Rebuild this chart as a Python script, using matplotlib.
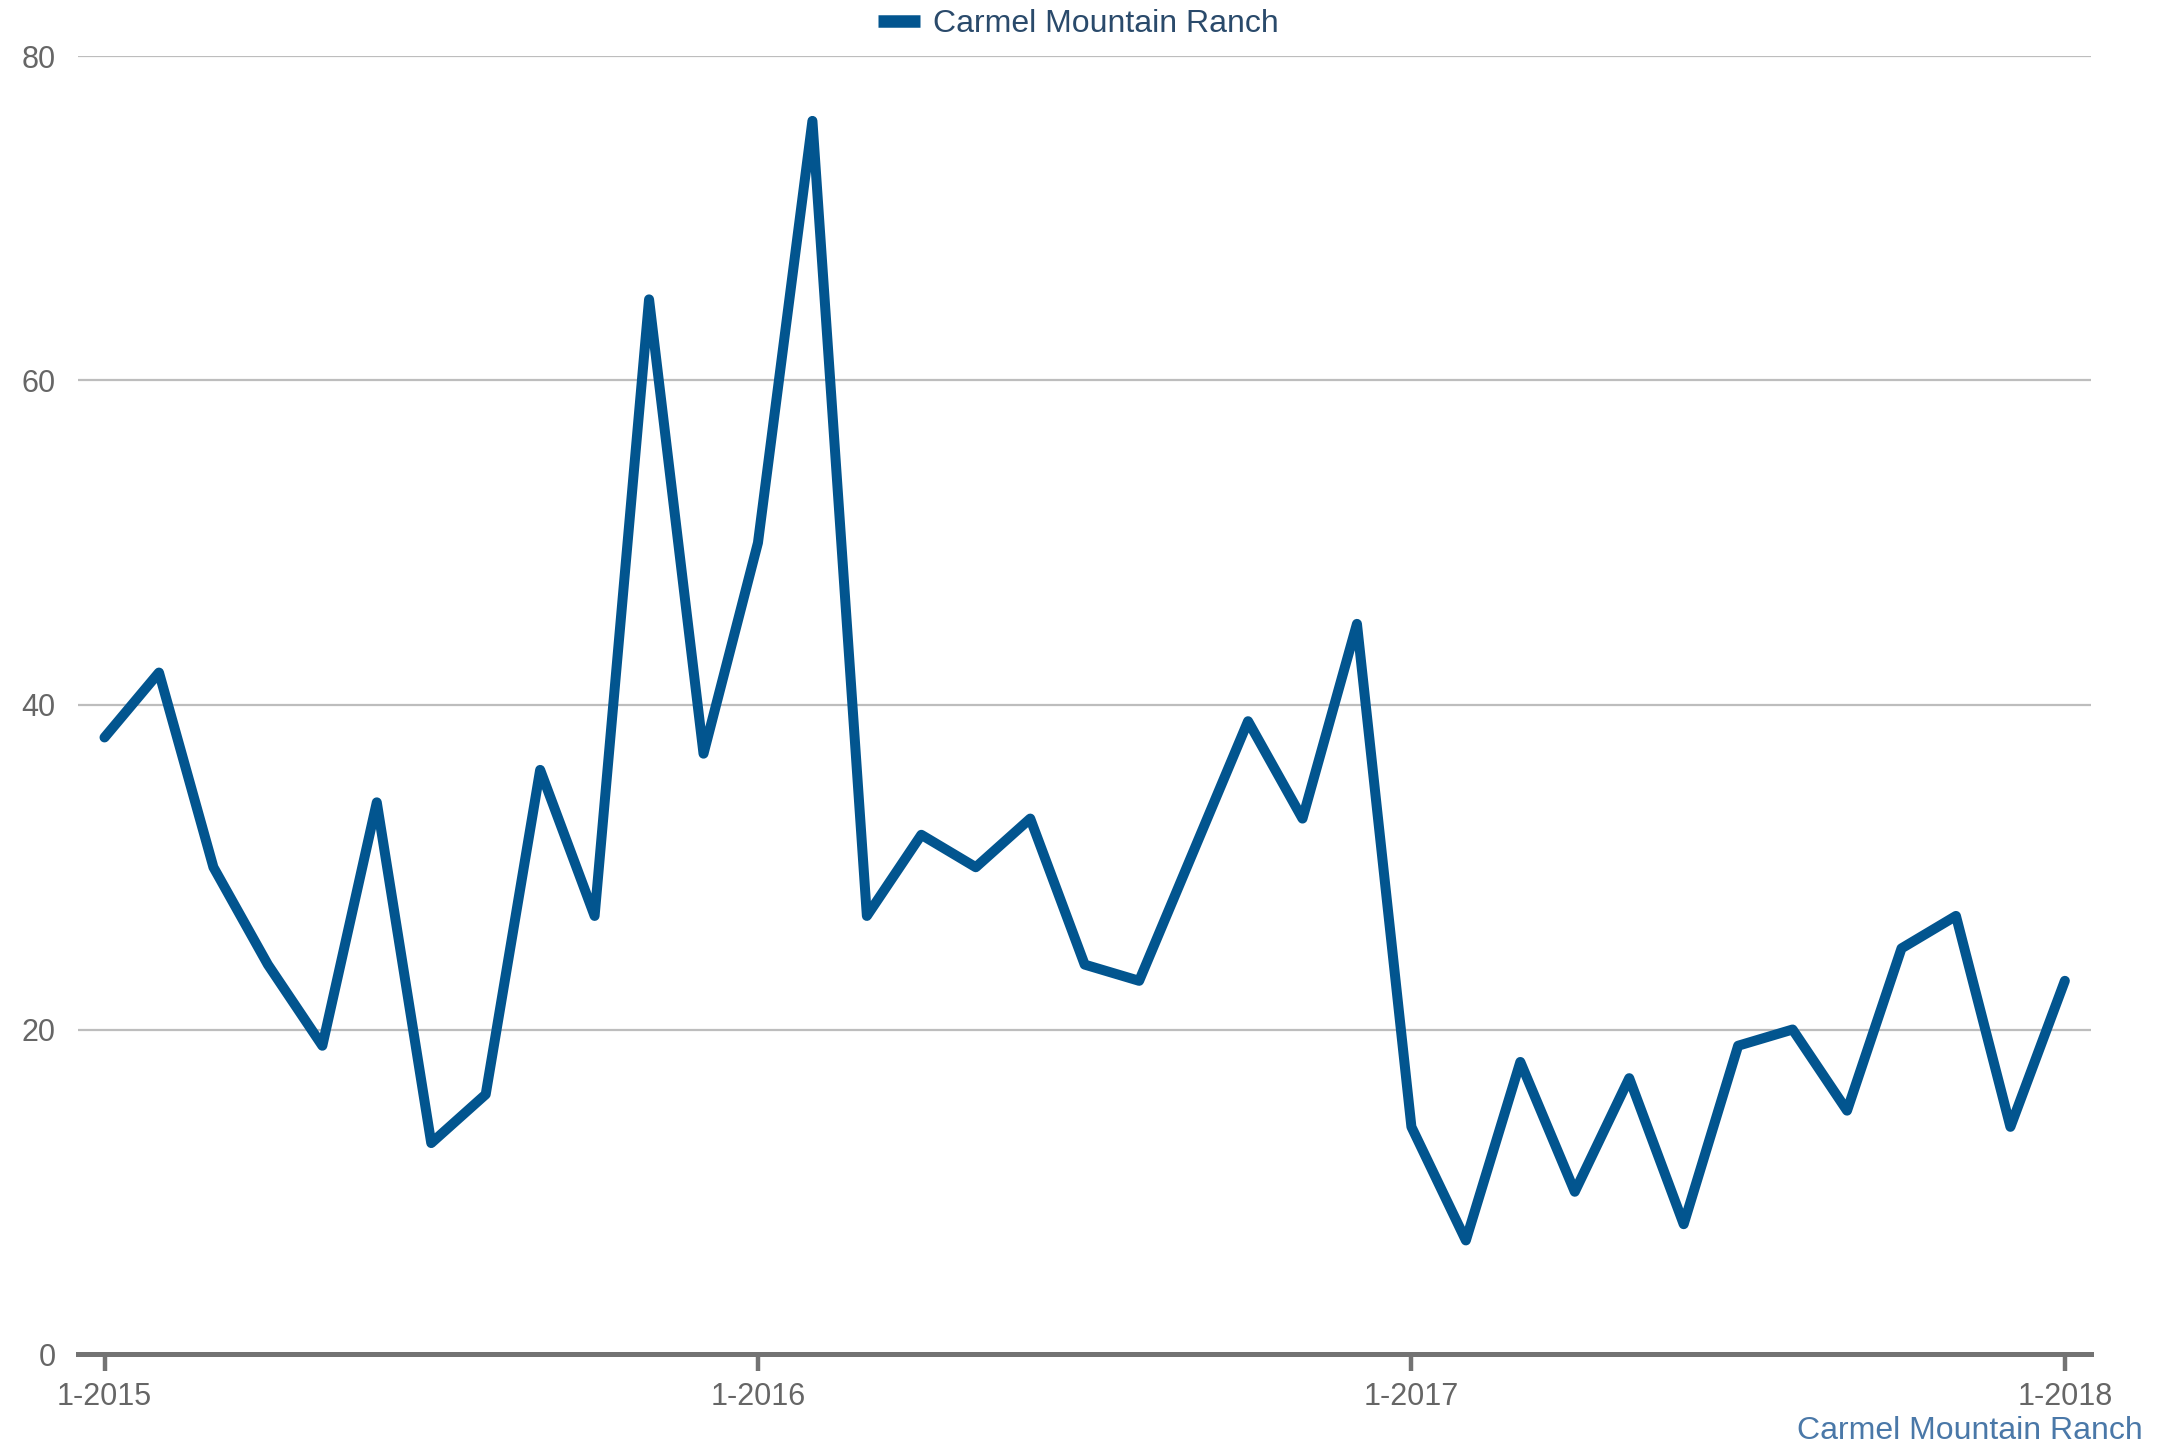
import matplotlib
matplotlib.use("Agg")
import matplotlib.pyplot as plt
from matplotlib import font_manager
from matplotlib.lines import Line2D

series_name = "Carmel Mountain Ranch"
values = [38, 42, 30, 24, 19, 34, 13, 16, 36, 27, 65, 37, 50, 76, 27, 32, 30, 33, 24, 23,
          31, 39, 33, 45, 14, 7, 18, 10, 17, 8, 19, 20, 15, 25, 27, 14, 23]
tick_positions = [0, 12, 24, 36]
tick_labels = ["1-2015", "1-2016", "1-2017", "1-2018"]
y_ticks = [0, 20, 40, 60, 80]

names = {f.name for f in font_manager.fontManager.ttflist}
fam = "Liberation Sans Narrow" if "Liberation Sans Narrow" in names else "Liberation Sans"
plt.rcParams['font.family'] = [fam, 'DejaVu Sans']

W, H = 2157, 1447
fig = plt.figure(figsize=(W / 100, H / 100), dpi=100)
left, right = 78 / W, 2091 / W
bottom, top = (H - 1354) / H, (H - 56) / H
ax = fig.add_axes([left, bottom, right - left, top - bottom])

line_color = "#02558f"
x = list(range(len(values)))
ax.plot(x, values, color=line_color, lw=7.2, solid_joinstyle="round", solid_capstyle="round",
        zorder=3, clip_on=False)

ax.set_xlim(-0.487, 36.48)
ax.set_ylim(0, 80)
ax.set_yticks(y_ticks)
ax.set_yticklabels([str(v) for v in y_ticks])
ax.set_xticks(tick_positions)
ax.set_xticklabels(tick_labels)

for s in ["top", "right", "left"]:
    ax.spines[s].set_visible(False)
ax.spines["bottom"].set_color("#737373")
ax.spines["bottom"].set_linewidth(3.6)
ax.spines["bottom"].set_zorder(4)

ax.grid(axis="y", color="#bdbdbd", lw=1.6)
ax.set_axisbelow(True)
ax.tick_params(axis="y", length=0, pad=16, labelsize=22, labelcolor="#666666")
ax.tick_params(axis="x", length=12, width=3.2, color="#737373", pad=8, labelsize=22,
               labelcolor="#666666")

handle = Line2D([], [], color=line_color, lw=9, solid_capstyle="butt")
fig.legend([handle], [series_name], loc="center", bbox_to_anchor=(0.5, 1 - 24 / H),
           frameon=False, fontsize=23, handlelength=1.3, handletextpad=0.4,
           labelcolor="#2a4a6b")

fig.text(2143 / W, 1 - 1431 / H, series_name, ha="right", va="center", fontsize=23,
         color="#4a78a8")

fig.savefig("out.png", dpi=100, facecolor="white")
